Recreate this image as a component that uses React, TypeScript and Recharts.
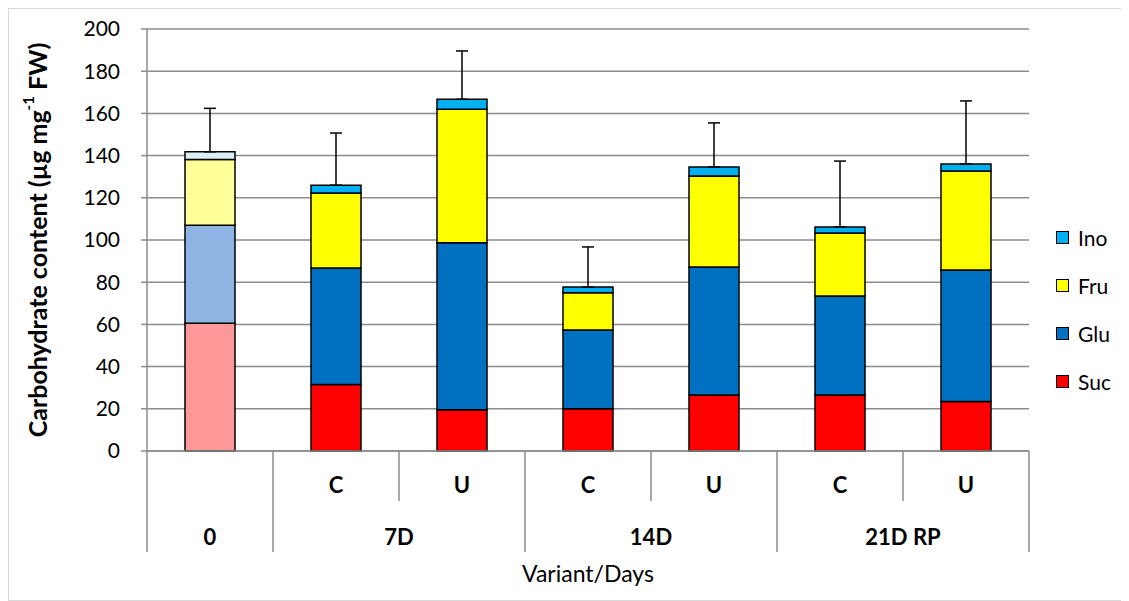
import React from "react";
import { BarChart, Bar, XAxis, YAxis, CartesianGrid, Legend, ErrorBar, Cell } from "recharts";

const keys = ["0", "7D C", "7D U", "14D C", "14D U", "21D C", "21D U"];
const subLabels = ["", "C", "U", "C", "U", "C", "U"];
const groups = ["0", "7D", "7D", "14D", "14D", "21D RP", "21D RP"];
const suc = [60.5, 31.5, 19.5, 20, 26.5, 26.5, 23.5];
const glu = [46.5, 55.2, 79.2, 37.3, 60.7, 47, 62.3];
const fru = [31.2, 35.6, 63.3, 17.7, 43.1, 29.8, 46.9];
const ino = [3.6, 3.7, 4.7, 2.7, 4.3, 2.9, 3.3];
const err = [20.6, 24.7, 22.9, 19, 20.9, 31.2, 29.9];
const yTicks = [0, 20, 40, 60, 80, 100, 120, 140, 160, 180, 200];

const data = keys.map((k, i) => ({
  key: k,
  Suc: suc[i],
  Glu: glu[i],
  Fru: fru[i],
  Ino: ino[i],
  err: [0, err[i]],
}));

const FONT = "Lato, 'Open Sans', sans-serif";
const GRAY = "#8c8c8c";
const colors: Record<string, string> = { Suc: "#FF0000", Glu: "#0070C0", Fru: "#FFFF00", Ino: "#00B0F0" };
const light: Record<string, string> = { Suc: "#FF9999", Glu: "#8EB4E3", Fru: "#FFFF99", Ino: "#DBEEF4" };
const legendOrder = ["Ino", "Fru", "Glu", "Suc"];
const stackOrder = ["Suc", "Glu", "Fru", "Ino"];

const CategoryTick = (props: any) => {
  const { x, y, payload } = props;
  const i: number = payload?.index ?? props.index;
  const half: number = payload?.offset || 63;
  const els: React.ReactNode[] = [];
  if (subLabels[i]) {
    els.push(
      <text key="s" x={x} y={y + 34} dy="0.35em" textAnchor="middle" fontFamily={FONT} fontWeight="bold" fontSize={22} fill="#000">
        {subLabels[i]}
      </text>
    );
  }
  const groupEnd = i === keys.length - 1 || groups[i] !== groups[i + 1];
  els.push(<line key="r" x1={x + half} x2={x + half} y1={y} y2={y + (groupEnd ? 101 : 50)} stroke={GRAY} strokeWidth={1.5} />);
  if (i === 0) {
    els.push(<line key="l" x1={x - half} x2={x - half} y1={y} y2={y + 101} stroke={GRAY} strokeWidth={1.5} />);
  }
  if (i === 0 || groups[i] !== groups[i - 1]) {
    let n = 0;
    while (i + n < keys.length && groups[i + n] === groups[i]) n++;
    const cx = x - half + n * half;
    els.push(
      <text key="g" x={cx} y={y + 86} dy="0.35em" textAnchor="middle" fontFamily={FONT} fontWeight="bold" fontSize={22} fill="#000">
        {groups[i]}
      </text>
    );
  }
  return <g>{els}</g>;
};

const YLabel = (props: any) => {
  const vb = props.viewBox || {};
  const cx = 28;
  const cy = (vb.y ?? 20) + (vb.height ?? 422) / 2;
  return (
    <text x={cx} y={cy} transform={`rotate(-90, ${cx}, ${cy})`} textAnchor="middle" dominantBaseline="central" fontFamily={FONT} fontWeight="bold" fontSize={25} fill="#000">
      Carbohydrate content (µg mg<tspan dy="-9" fontSize={15}>-1</tspan><tspan dy="9"> FW)</tspan>
    </text>
  );
};

const LegendContent = () => (
  <div style={{ fontFamily: FONT, fontSize: 21, color: "#000" }}>
    {legendOrder.map((k) => (
      <div key={k} style={{ height: 48, display: "flex", alignItems: "center" }}>
        <span style={{ display: "inline-block", width: 11, height: 11, background: colors[k], border: "1px solid #000", marginRight: 9 }} />
        <span>{k}</span>
      </div>
    ))}
  </div>
);

export default function App() {
  return (
    <div style={{ width: 1121, height: 593, boxSizing: "border-box", border: "1px solid #d9d9d9", background: "#fff" }}>
      <BarChart width={1119} height={591} data={data} margin={{ top: 20, right: 99, left: 68, bottom: 14 }} barSize={50}>
        <CartesianGrid vertical={false} stroke={GRAY} strokeWidth={1.5} />
        <XAxis
          dataKey="key"
          height={135}
          tickLine={false}
          tickSize={0}
          tickMargin={0}
          interval={0}
          axisLine={{ stroke: GRAY, strokeWidth: 1.5 }}
          tick={<CategoryTick />}
          label={{ value: "Variant/Days", position: "insideBottom", offset: 4, fontFamily: FONT, fontSize: 23, fill: "#000" }}
        />
        <YAxis
          domain={[0, 200]}
          ticks={yTicks}
          width={70}
          interval={0}
          tickSize={6}
          tickMargin={21}
          tickLine={{ stroke: GRAY, strokeWidth: 1.5 }}
          axisLine={{ stroke: GRAY, strokeWidth: 1.5 }}
          tick={{ fontFamily: FONT, fontSize: 21, fill: "#000" }}
          label={<YLabel />}
        />
        <YAxis yAxisId="right" orientation="right" domain={[0, 200]} width={0} tick={false} tickLine={false} axisLine={{ stroke: GRAY, strokeWidth: 1.5 }} />
        <Legend
          layout="vertical"
          align="center"
          verticalAlign="middle"
          content={<LegendContent />}
          wrapperStyle={{ left: 1047, top: 204, width: 70 }}
        />
        {stackOrder.map((k) => (
          <Bar key={k} dataKey={k} stackId="a" fill={colors[k]} stroke="#000" strokeWidth={1.5} isAnimationActive={false}>
            {data.map((d, i) => (
              <Cell key={d.key} fill={i === 0 ? light[k] : colors[k]} />
            ))}
            {k === "Ino" ? <ErrorBar dataKey="err" width={6} stroke="#000" strokeWidth={1.5} direction="y" /> : null}
          </Bar>
        ))}
      </BarChart>
    </div>
  );
}
